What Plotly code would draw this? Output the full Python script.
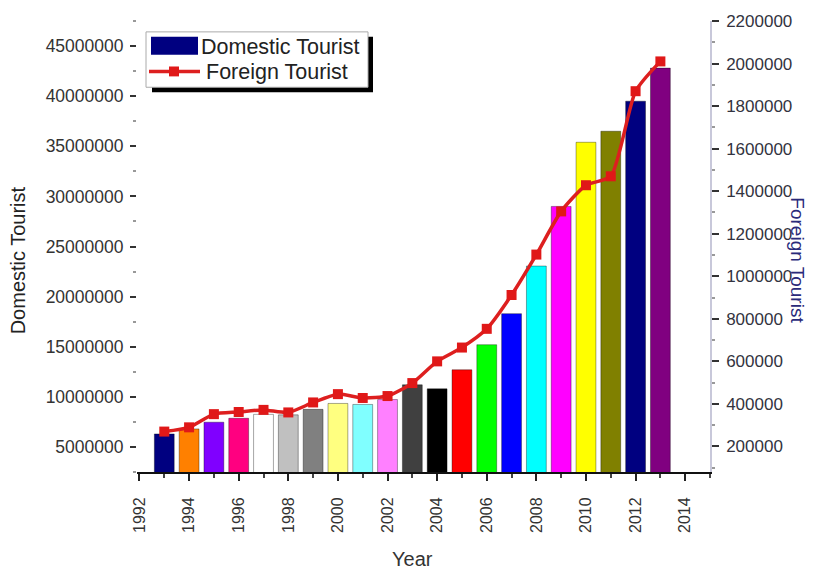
import plotly.graph_objects as go

years = list(range(1993, 2014))
domestic = [6.3e6, 6.8e6, 7.47e6, 7.86e6, 8.25e6, 8.2e6, 8.75e6, 9.34e6, 9.24e6, 9.73e6,
            11.2e6, 10.8e6, 12.7e6, 15.2e6, 18.3e6, 23.05e6, 29.0e6, 35.4e6, 36.5e6, 39.5e6, 42.8e6]
foreign = [270000, 290000, 352000, 362000, 372000, 360000, 407000, 446000, 428000, 437000,
           498000, 600000, 665000, 753000, 912000, 1102000, 1305000, 1428000, 1470000, 1870000, 2010000]
bar_colors = ["#000080", "#FF8000", "#8000FF", "#FF0080", "#FFFFFF", "#C0C0C0", "#808080",
              "#FFFF80", "#80FFFF", "#FF80FF", "#404040", "#000000", "#FF0000", "#00FF00",
              "#0000FF", "#00FFFF", "#FF00FF", "#FFFF00", "#808000", "#000080", "#800080"]
x_ticks = [1992, 1994, 1996, 1998, 2000, 2002, 2004, 2006, 2008, 2010, 2012, 2014]
left_ticks = [5e6, 10e6, 15e6, 20e6, 25e6, 30e6, 35e6, 40e6, 45e6]
right_ticks = [200000, 400000, 600000, 800000, 1000000, 1200000, 1400000, 1600000, 1800000, 2000000, 2200000]

FONT = "Liberation Sans, Arial, sans-serif"
XR = [1991.9, 2015]
LINE_RED = "#DD1F1F"

# plot area in pixels (for placing legend decorations in paper coords)
L, R, T, B = 137, 710, 16, 472
def px(xp):
    return (xp - L) / (R - L)
def py(yp):
    return (B - yp) / (B - T)

fig = go.Figure()
fig.add_trace(go.Bar(
    x=years, y=domestic, name="Domestic Tourist", width=0.8,
    marker=dict(color=bar_colors, line=dict(color="rgba(0,0,0,0.35)", width=1)),
    xaxis="x", yaxis="y", showlegend=False,
))
fig.add_trace(go.Scatter(
    x=years, y=foreign, name="Foreign Tourist", mode="lines+markers",
    line=dict(color=LINE_RED, width=3.5, shape="spline", smoothing=0.6),
    marker=dict(symbol="square", size=10, color="#E01818"),
    xaxis="x", yaxis="y2", showlegend=False,
))

shapes = [
    # legend shadow
    dict(type="rect", xref="paper", yref="paper", x0=px(152), x1=px(373), y0=py(88), y1=py(32),
         fillcolor="black", line=dict(width=0), layer="above"),
    # legend box
    dict(type="rect", xref="paper", yref="paper", x0=px(146), x1=px(368), y0=py(83), y1=py(27),
         fillcolor="white", line=dict(color="#AAAAAA", width=1), layer="above"),
    # domestic swatch
    dict(type="rect", xref="paper", yref="paper", x0=px(151), x1=px(198), y0=py(50), y1=py(32),
         fillcolor="#000080", line=dict(width=0), layer="above"),
    # foreign line swatch
    dict(type="line", xref="paper", yref="paper", x0=px(149), x1=px(200), y0=py(67), y1=py(67),
         line=dict(color=LINE_RED, width=3.5), layer="above"),
    dict(type="rect", xref="paper", yref="paper", x0=px(169), x1=px(179), y0=py(72), y1=py(62),
         fillcolor="#E01818", line=dict(width=0), layer="above"),
]

fig.update_layout(
    width=813, height=573,
    margin=dict(l=L, r=813 - R, t=T, b=573 - B),
    paper_bgcolor="white", plot_bgcolor="white",
    font=dict(family=FONT, size=17, color="#333333"),
    showlegend=False,
    xaxis=dict(
        range=XR, tickvals=x_ticks, ticktext=[str(v) for v in x_ticks],
        tickangle=-90, ticks="outside", ticklen=7, tickwidth=1.5, tickcolor="#222",
        showline=True, linecolor="#111111", linewidth=2, showgrid=False, zeroline=False,
        minor=dict(dtick=1, tick0=1993, ticks="outside", ticklen=4, tickcolor="#444", showgrid=False),
        tickfont=dict(size=16, color="#333333"), ticklabelstandoff=10,
    ),
    xaxis2=dict(
        range=XR, overlaying="x", side="top", anchor="y",
        tickvals=x_ticks, showticklabels=False, ticks="inside", ticklen=8, tickwidth=1.5,
        tickcolor="#333", showline=True, linecolor="#555555", linewidth=2, showgrid=False,
        zeroline=False,
        minor=dict(dtick=1, tick0=1993, ticks="inside", ticklen=4, tickcolor="#555", showgrid=False),
    ),
    yaxis=dict(
        range=[2.5e6, 47.5e6], tickvals=left_ticks,
        ticktext=[str(int(v)) for v in left_ticks],
        ticks="outside", ticklen=6, tickwidth=1.5, tickcolor="#333",
        showline=False, showgrid=False, zeroline=False,
        minor=dict(dtick=2.5e6, tick0=2.5e6, ticks="outside", ticklen=3, tickcolor="#999", showgrid=False),
        tickfont=dict(size=17.5, color="#333333"), ticklabelstandoff=3,
    ),
    yaxis2=dict(
        range=[80000, 2200000], overlaying="y", side="right", anchor="x",
        tickvals=right_ticks, ticktext=[str(v) for v in right_ticks],
        ticks="outside", ticklen=7, tickwidth=1.5, tickcolor="#333",
        showline=True, linecolor="#C8C8DA", linewidth=1.5, showgrid=False, zeroline=False,
        minor=dict(dtick=100000, tick0=0, ticks="outside", ticklen=3, tickcolor="#999", showgrid=False),
        tickfont=dict(size=17, color="#333340"), ticklabelstandoff=4,
    ),
    annotations=[
        dict(text="Domestic Tourist", xref="paper", yref="paper", x=px(18), y=py(258),
             xanchor="center", yanchor="middle",
             textangle=-90, showarrow=False, font=dict(size=20, color="#222222", family=FONT)),
        dict(text="Year", xref="paper", yref="paper", x=px(412), y=py(560),
             xanchor="center", yanchor="middle",
             showarrow=False, font=dict(size=20, color="#333333", family=FONT)),
        dict(text="Foreign Tourist", xref="paper", yref="paper", x=px(798), y=py(258),
             xanchor="center", yanchor="middle",
             textangle=90, showarrow=False, font=dict(size=19, color="#2A2A7A", family=FONT)),
        dict(text="Domestic Tourist", xref="paper", yref="paper", x=px(199), y=py(42),
             xanchor="left", yanchor="middle", showarrow=False,
             font=dict(size=21.5, color="#222222", family=FONT)),
        dict(text="Foreign Tourist", xref="paper", yref="paper", x=px(204), y=py(68),
             xanchor="left", yanchor="middle", showarrow=False,
             font=dict(size=21.5, color="#222222", family=FONT)),
    ],
    shapes=shapes,
)

fig.write_html("out.html")
